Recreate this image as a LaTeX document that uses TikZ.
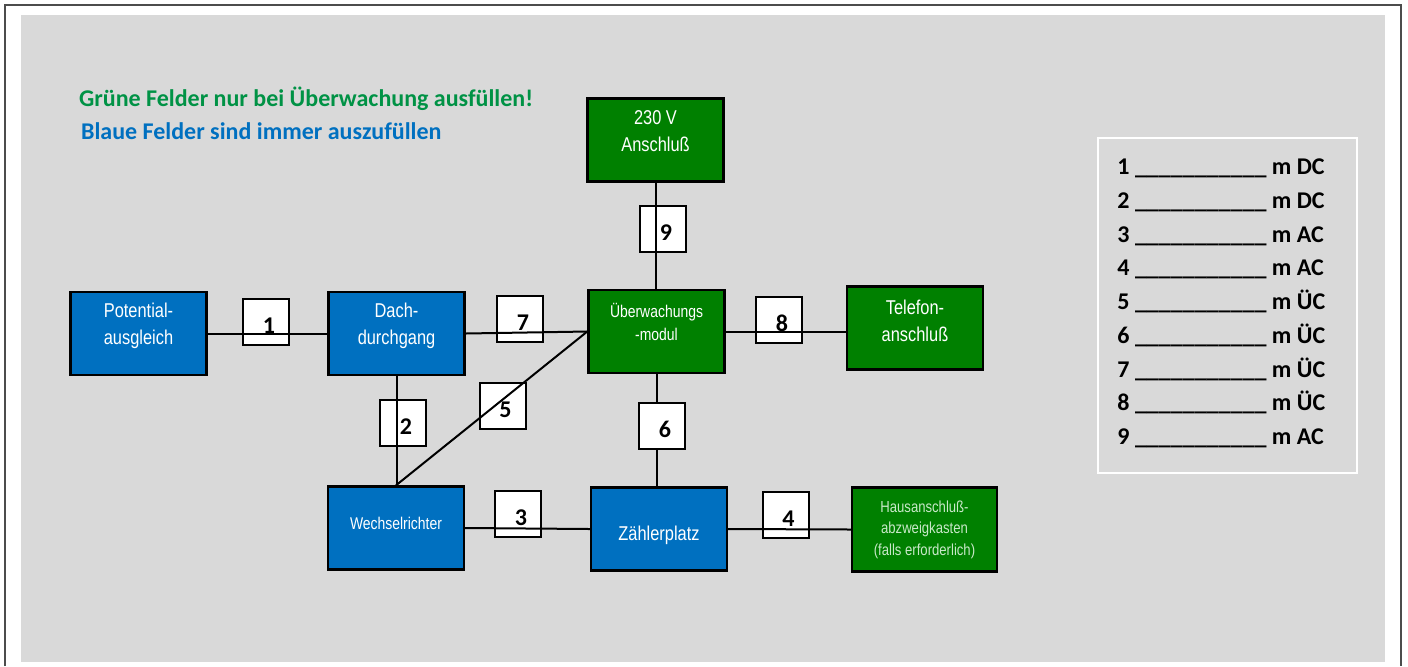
\documentclass[tikz,border=0pt]{standalone}
\usepackage{fontspec}
\setmainfont{Carlito}
\newfontfamily\narrowfont[FakeStretch=0.82]{Liberation Sans}
\usetikzlibrary{positioning,calc}
\definecolor{boxblue}{RGB}{0,112,192}
\definecolor{boxgreen}{RGB}{0,128,0}
\definecolor{headgreen}{RGB}{0,146,69}
\definecolor{paper}{RGB}{217,217,217}
\definecolor{palegreen}{RGB}{200,232,200}

\begin{document}
\begin{tikzpicture}[x=0.5pt, y=-0.5pt,
		bluebox/.style={rectangle, draw=black, line width=1.2pt, fill=boxblue, text=white, minimum width=68pt, minimum height=41.5pt, align=center, font=\narrowfont\fontsize{10}{13.5}\selectfont},
		greenbox/.style={bluebox, fill=boxgreen},
		smalltext/.style={font=\narrowfont\fontsize{8.5}{11.5}\selectfont},
		numbox/.style={rectangle, draw=black, line width=1pt, fill=white, minimum size=23pt, inner sep=0pt, font=\bfseries\fontsize{12}{14}\selectfont, text height=11.6pt, text depth=0pt, execute at begin node={\hspace*{3pt}}},
		heading/.style={anchor=base west, font=\bfseries\fontsize{12}{14}\selectfont},
		legline/.style={anchor=base west, inner sep=0pt, font=\bfseries\fontsize{12}{14}\selectfont},
		legframe/.style={rectangle, draw=white, line width=1pt, minimum width=129.5pt, minimum height=167.5pt},
		wire/.style={draw=black, line width=1pt}
	]
	\useasboundingbox (0,0) rectangle (1408,666);
	\fill[paper] (21,15) rectangle (1385,662);
	\draw[line width=1pt, black!70] (5,666) -- (5,5) -- (1401,5) -- (1401,666);

	\node[heading, text=headgreen] (greennote) at (72,106) {Grüne Felder nur bei Überwachung ausfüllen!};
	\node[heading, text=boxblue] (bluenote) at (74,139) {Blaue Felder sind immer auszufüllen};

	% blocks
	\node[bluebox, text depth=10pt] (potential) at (138.5,333.5) {Potential-\\ausgleich};
	\node[bluebox, text depth=10pt] (dach) at (396.5,333.5) {Dach-\\durchgang};
	\node[greenbox, smalltext, text depth=10pt] (modul) at (656.5,331.5) {Überwachungs\\-modul};
	\node[greenbox, text depth=9pt] (netz) at (655.5,140) {230 V\\Anschluß};
	\node[greenbox, text depth=7pt] (telefon) at (915,328) {Telefon-\\anschluß};
	\node[bluebox, smalltext, text depth=5pt] (wr) at (396,528) {Wechselrichter};
	\node[bluebox, text height=13.3pt] (zaehler) at (659,529) {Zählerplatz};
	\node[greenbox, text=palegreen, minimum width=72.5pt, minimum height=42pt, font=\narrowfont\fontsize{8}{10.75}\selectfont] (hak) at (924.5,529.5) {Hausanschluß-\\abzweigkasten\\(falls erforderlich)};

	\draw[wire] (modul.south) -- (modul.south |- zaehler.north);

	% cable numbers
	\node[numbox] (c1) at (266,322) {1};
	\node[numbox] (c2) at (403,422.5) {2};
	\node[numbox] (c3) at (518,514) {3};
	\node[numbox] (c4) at (785.5,515) {4};
	\node[numbox] (c5) at (502.5,405.5) {5};
	\node[numbox] (c6) at (662,426) {6};
	\node[numbox] (c7) at (520,318.5) {7};
	\node[numbox] (c8) at (779,319.5) {8};
	\node[numbox] (c9) at (663,229) {9};

	\begin{scope}[wire]
	\draw (potential.east) -- (dach.west);
	\draw (dach.east) -- (modul.west);
	\draw (modul.east) -- (modul.east -| telefon.west);
	\draw (netz.south) -- (netz.south |- modul.north);
	\draw (dach.south) -- (dach.south |- wr.north);
	\draw (wr.north) -- (modul.west);
	\draw (wr.east) -- (zaehler.west);
	\draw (zaehler.east) -- (hak.west);
	\end{scope}

	% legend
	\node[legframe] (legend) at (1227.5,305.5) {};
	\foreach \n/\kind [count=\row from 0] in {1/DC,2/DC,3/AC,4/AC,5/ÜC,6/ÜC,7/ÜC,8/ÜC,9/AC}
		\node[legline] (len\n) at (1117,{174.5+33.75*\row}) {\n\ \_\_\_\_\_\_\_\_\_\_\_\ m \kind};
\end{tikzpicture}
\end{document}
